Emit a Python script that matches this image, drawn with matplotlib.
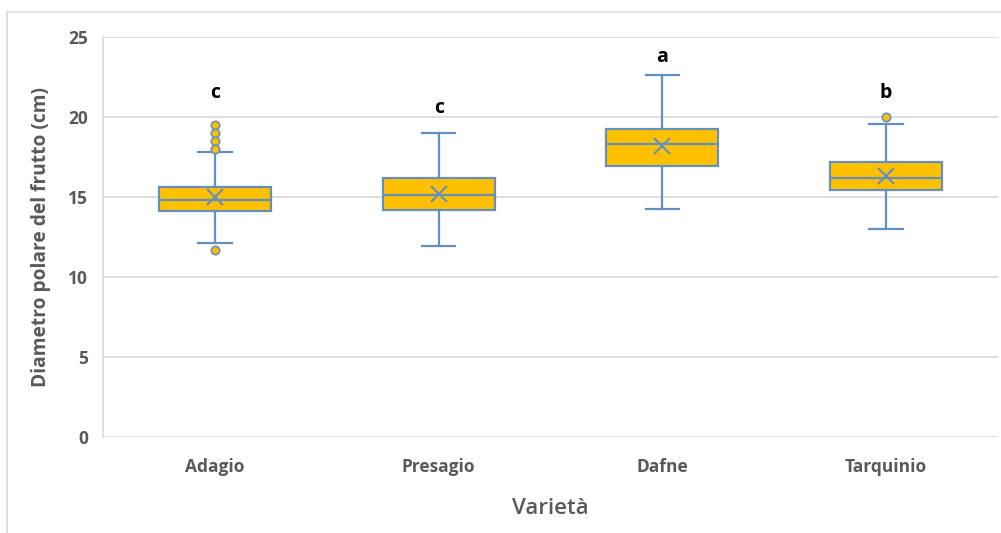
import matplotlib.pyplot as plt
from matplotlib.patches import Rectangle

# Values
varieties = ['Adagio', 'Presagio', 'Dafne', 'Tarquinio']
q1 = [14.1, 14.2, 16.95, 15.45]
median = [14.8, 15.1, 18.3, 16.2]
q3 = [15.6, 16.2, 19.25, 17.2]
mean = [15.0, 15.2, 18.2, 16.3]
whisker_low = [12.1, 11.95, 14.25, 13.0]
whisker_high = [17.8, 19.0, 22.6, 19.55]
outliers = [[19.5, 19.0, 18.5, 18.0, 11.7], [], [], [20.0]]
letters = ['c', 'c', 'a', 'b']
letter_y = [21.5, 20.55, 23.75, 21.5]
yticks = [0, 5, 10, 15, 20, 25]

box_edge = '#6590bd'
box_fill = '#ffc000'
text_grey = '#595959'

plt.rcParams['font.family'] = ['Open Sans', 'DejaVu Sans']

fig = plt.figure(figsize=(10.01, 5.33), dpi=100)
ax = fig.add_axes([0.103, 0.18, 0.894, 0.7506])

stats = []
for i, name in enumerate(varieties):
    stats.append({'label': name, 'q1': q1[i], 'med': median[i], 'q3': q3[i],
                  'mean': mean[i], 'whislo': whisker_low[i],
                  'whishi': whisker_high[i], 'fliers': outliers[i]})

positions = list(range(1, len(varieties) + 1))
ax.bxp(stats, positions=positions, widths=0.5, capwidths=0.15,
       patch_artist=True, showmeans=True, zorder=3,
       boxprops=dict(facecolor=box_fill, edgecolor=box_edge, linewidth=1.6),
       medianprops=dict(color=box_edge, linewidth=1.6),
       whiskerprops=dict(color=box_edge, linewidth=1.6),
       capprops=dict(color=box_edge, linewidth=1.6),
       meanprops=dict(marker='x', markeredgecolor=box_edge, markersize=11,
                      markeredgewidth=1.5),
       flierprops=dict(marker='o', markerfacecolor=box_fill,
                       markeredgecolor=box_edge, markersize=6,
                       markeredgewidth=1.2))

for pos, letter, yv in zip(positions, letters, letter_y):
    ax.text(pos, yv, letter, ha='center', va='center', fontsize=14,
            fontweight='bold', color='black')

ax.set_xlim(0.5, len(varieties) + 0.5)
ax.set_ylim(0, 25)
ax.set_yticks(yticks)
ax.yaxis.grid(True, color='#d9d9d9', linewidth=1.2, zorder=0)
ax.set_axisbelow(True)
for side in ['top', 'right', 'bottom']:
    ax.spines[side].set_visible(False)
ax.spines['left'].set_color('#d9d9d9')
ax.spines['left'].set_linewidth(1.2)
ax.tick_params(length=0, labelsize=12.5, labelcolor=text_grey)
ax.tick_params(axis='y', pad=11)
ax.tick_params(axis='x', pad=15)
for lab in ax.get_xticklabels() + ax.get_yticklabels():
    lab.set_fontweight('bold')

ax.set_xlabel('Varietà', fontsize=16, fontweight='semibold', color=text_grey,
              labelpad=16)
ax.set_ylabel('Diametro polare del frutto (cm)', fontsize=13.8,
              fontweight='bold', color=text_grey, labelpad=12)

# thin outer frame of the chart area
fig.add_artist(Rectangle((0.007, -0.05), 1.1, 1.028, transform=fig.transFigure,
                         fill=False, edgecolor='#d9d9d9', linewidth=1.2))

fig.savefig('out.png', dpi=100)
